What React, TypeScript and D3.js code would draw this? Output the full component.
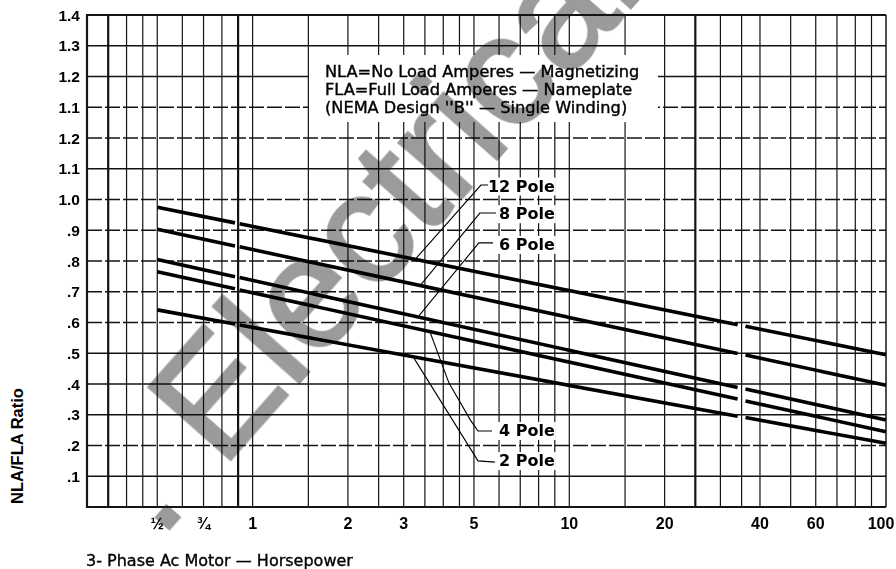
import React from "react";
import * as d3 from "d3";

const W = 896;
const H = 569;

// Axis domains
const hpDomain: [number, number] = [0.3, 100];
const ratioDomain: [number, number] = [0, 1.6];

// Y ticks (values on the chart paper) and the printed labels
const yTickValues = [1.6, 1.5, 1.4, 1.3, 1.2, 1.1, 1.0, 0.9, 0.8, 0.7, 0.6, 0.5, 0.4, 0.3, 0.2, 0.1];
const yTickLabels = ["1.4", "1.3", "1.2", "1.1", "1.2", "1.1", "1.0", ".9", ".8", ".7", ".6", ".5", ".4", ".3", ".2", ".1"];
const rowStyles = ["frame", "solid", "solid", "dashed", "dashed", "solid", "dashed", "dashed", "dashed", "dashed", "dashed", "solid", "solid", "solid", "dashed", "solid"];

// Vertical grid (horsepower)
const xGridValues = [0.35, 0.4, 0.45, 0.5, 0.6, 0.7, 0.8, 0.9, 1, 1.5, 2, 2.5, 3, 3.5, 4, 4.5, 5, 6, 7, 8, 9, 10, 15, 20, 25, 30, 35, 40, 50, 60, 70, 80, 90];
const heavyX = [0.35, 0.9, 25];
const xTickValues = [0.5, 0.7, 1, 2, 3, 5, 10, 20, 40, 60, 100];
const xTickLabels = ["½", "¾", "1", "2", "3", "5", "10", "20", "40", "60", "100"];

// Series: segments of [hp, ratio]
const pole12 = [[[0.5, 0.975], [0.88, 0.924]], [[0.91, 0.921], [34, 0.593]], [[36, 0.588], [100, 0.495]]];
const pole8 = [[[0.5, 0.903], [0.88, 0.849]], [[0.91, 0.846], [34, 0.499]], [[36, 0.494], [100, 0.396]]];
const pole6 = [[[0.5, 0.805], [0.88, 0.749]], [[0.91, 0.746], [34, 0.389]], [[36, 0.384], [100, 0.283]]];
const pole4 = [[[0.5, 0.765], [0.88, 0.71]], [[0.91, 0.706], [34, 0.351]], [[36, 0.345], [100, 0.245]]];
const pole2 = [[[0.5, 0.641], [0.88, 0.595]], [[0.91, 0.592], [34, 0.295]], [[36, 0.291], [100, 0.207]]];
const seriesList = [pole12, pole8, pole6, pole4, pole2];

// Labels with leader lines (points in hp / ratio)
const poleNames = ["12 Pole", "8 Pole", "6 Pole", "4 Pole", "2 Pole"];
const poleLabelRatio = [1.026, 0.936, 0.836, 0.231, 0.133];
const poleLabelEndHP = 9;
const leader12 = [[5.54, 1.047], [5.26, 1.047], [3.26, 0.805]];
const leader8 = [[5.87, 0.956], [5.22, 0.956], [3.38, 0.72]];
const leader6 = [[5.74, 0.859], [5.18, 0.859], [3.33, 0.618]];
const leader4 = [[5.7, 0.247], [5.15, 0.247], [4.89, 0.28], [4.17, 0.403], [3.63, 0.57]];
const leader2 = [[5.82, 0.146], [5.15, 0.15], [3.21, 0.489]];
const leaders = [leader12, leader8, leader6, leader4, leader2];

const legendLines = [
  "NLA=No Load Amperes — Magnetizing",
  "FLA=Full Load Amperes — Nameplate",
  "(NEMA Design ''B'' — Single Winding)",
];

const SANS = "'Liberation Sans', Arial, Helvetica, sans-serif";
const DJV = "'DejaVu Sans', 'Liberation Sans', sans-serif";
const INK = "#141414";

export default function App() {
  const left = 87, right = 886, top = 15, bottom = 507;
  const x = d3.scaleLog().domain(hpDomain).range([left, right]);
  const y = d3.scaleLinear().domain(ratioDomain).range([bottom, top]);
  const line = d3
    .line<number[]>()
    .x((d) => x(d[0]))
    .y((d) => y(d[1]));

  return (
    <svg
      width={W}
      height={H}
      viewBox={`0 0 ${W} ${H}`}
      style={{ position: "absolute", left: 0, top: 0, background: "#fff" }}
    >
      <rect x={0} y={0} width={W} height={H} fill="#fff" />

      {/* vertical grid */}
      {xGridValues.map((v, i) => (
        <line
          key={"vx" + i}
          x1={x(v)}
          x2={x(v)}
          y1={top}
          y2={bottom}
          stroke={INK}
          strokeWidth={heavyX.includes(v) ? 2.2 : 1.2}
        />
      ))}

      {/* horizontal grid */}
      {yTickValues.map((v, i) =>
        rowStyles[i] === "frame" ? null : (
          <line
            key={"hy" + i}
            x1={left}
            x2={right}
            y1={y(v)}
            y2={y(v)}
            stroke={INK}
            strokeWidth={rowStyles[i] === "solid" ? 1.6 : 1.3}
            strokeDasharray={rowStyles[i] === "dashed" ? "15 3" : undefined}
          />
        )
      )}

      {/* white areas behind the notes */}
      <rect x={309} y={55} width={349} height={67} fill="#fff" />
      {poleNames.map((n, i) => (
        <rect
          key={"lb" + i}
          x={489}
          y={y(poleLabelRatio[i]) - 14}
          width={x(poleLabelEndHP) - 489 + 1}
          height={18}
          fill="#fff"
        />
      ))}

      {/* watermark */}
      <g style={{ mixBlendMode: "multiply" }} fill="#9b9b9b" stroke="#9b9b9b" strokeWidth={3} fontFamily={SANS} fontSize={158}>
        <text transform="translate(222,469) rotate(-48.5)">ElectricalPartManuals.com</text>
        <text transform="translate(222,469) rotate(-48.5)" textAnchor="end" dx={-50}>
          .
        </text>
      </g>

      {/* frame */}
      <line x1={left} x2={right} y1={top} y2={top} stroke={INK} strokeWidth={2} />
      <line x1={left} x2={right} y1={bottom} y2={bottom} stroke={INK} strokeWidth={2} />
      <line x1={left} x2={left} y1={top - 1} y2={bottom + 1} stroke={INK} strokeWidth={2.2} />
      <line x1={right} x2={right} y1={top} y2={bottom} stroke={INK} strokeWidth={1.5} />

      {/* data lines */}
      {seriesList.map((s, i) => (
        <g key={"s" + i}>
          {s.map((seg, j) => (
            <path key={j} d={line(seg as number[][]) || ""} fill="none" stroke="#000" strokeWidth={3.6} />
          ))}
        </g>
      ))}

      {/* leaders */}
      {leaders.map((l, i) => (
        <path key={"ld" + i} d={line(l as number[][]) || ""} fill="none" stroke="#000" strokeWidth={1.1} />
      ))}

      {/* pole labels */}
      {poleNames.map((n, i) => (
        <text
          key={"pn" + i}
          x={x(poleLabelEndHP)}
          y={y(poleLabelRatio[i])}
          textAnchor="end"
          fontFamily={DJV}
          fontWeight="bold"
          fontSize={16}
          fill="#000"
        >
          {n}
        </text>
      ))}

      {/* legend */}
      {legendLines.map((t, i) => (
        <text
          key={"lg" + i}
          x={325}
          y={76.5 + i * 18.3}
          fontFamily={DJV}
          fontSize={16.2}
          fill="#000"
          stroke="#000"
          strokeWidth={0.4}
        >
          {t}
        </text>
      ))}

      {/* y tick labels */}
      {yTickValues.map((v, i) => (
        <text
          key={"yl" + i}
          x={80}
          y={y(v) + 5.5}
          textAnchor="end"
          fontFamily={SANS}
          fontWeight="bold"
          fontSize={15.5}
          fill="#000"
        >
          {yTickLabels[i]}
        </text>
      ))}

      {/* x tick labels */}
      {xTickValues.map((v, i) => (
        <text
          key={"xl" + i}
          x={x(v)}
          dx={v === 100 ? -5 : 0}
          y={529}
          textAnchor="middle"
          fontFamily={SANS}
          fontWeight="bold"
          fontSize={16}
          fill="#000"
        >
          {xTickLabels[i]}
        </text>
      ))}

      {/* axis titles */}
      <text
        transform="translate(23,446) rotate(-90)"
        textAnchor="middle"
        fontFamily={SANS}
        fontWeight="bold"
        fontSize={16.5}
        fill="#000"
      >
        NLA/FLA Ratio
      </text>
      <text x={86} y={566} fontFamily={DJV} fontSize={16} fill="#000" stroke="#000" strokeWidth={0.35}>
        3- Phase Ac Motor — Horsepower
      </text>
    </svg>
  );
}
